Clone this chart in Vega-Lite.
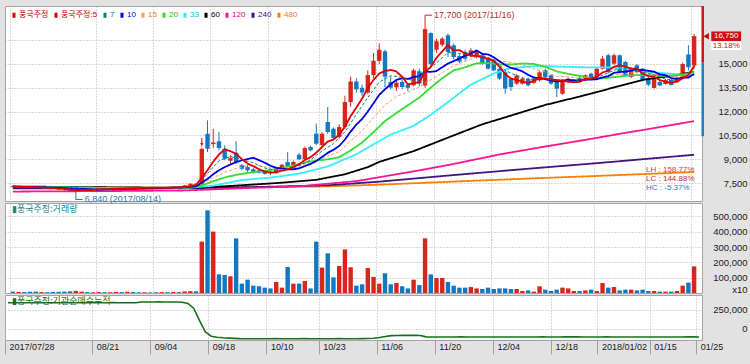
{
"$schema": "https://vega.github.io/schema/vega-lite/v6.json",
"background": "#e2e2e2",
"padding": {"left": 4, "top": 4, "right": 4, "bottom": 12},
"spacing": 2,
"bounds": "flush",
"config": {
  "view": {"stroke": "#a4a4a4", "fill": "#ffffff"},
  "font": "Liberation Sans, sans-serif",
  "axis": {"labelFont": "Liberation Sans, sans-serif", "labelFontSize": 9.5, "labelColor": "#1a1a1a", "gridColor": "#b4b4b4", "gridDash": [1, 2], "gridWidth": 1, "domain": false, "ticks": false, "labelOverlap": false, "labelBound": false}
},
"resolve": {"scale": {"x": "independent", "y": "independent", "color": "independent"}},
"datasets": {"d": [
{"i":0,"o":7300,"h":7350,"l":7220,"c":7250,"v":9000,"cum":346000,"m5":7260,"m7":7265,"m10":7270,"m15":7275,"m20":7280,"m33":7250,"m60":7280,"m120":6960,"m240":7170,"m480":7200},
{"i":1,"o":7250,"h":7300,"l":7200,"c":7280,"v":7000,"cum":346000,"m5":7260},
{"i":2,"o":7280,"h":7320,"l":7230,"c":7260,"v":6000,"cum":345000,"m5":7255},
{"i":3,"o":7260,"h":7300,"l":7200,"c":7230,"v":8000,"cum":346000,"m5":7250},
{"i":4,"o":7230,"h":7260,"l":7150,"c":7180,"v":9000,"cum":346000,"m5":7240},
{"i":5,"o":7180,"h":7230,"l":7140,"c":7200,"v":6000,"cum":347000,"m5":7230,"m10":7245},
{"i":6,"o":7200,"h":7240,"l":7150,"c":7170,"v":5000,"cum":346000,"m5":7208},
{"i":7,"o":7170,"h":7200,"l":7100,"c":7120,"v":7000,"cum":346000,"m5":7180},
{"i":8,"o":7120,"h":7150,"l":7050,"c":7080,"v":8000,"cum":345000,"m5":7150,"m7":7160},
{"i":9,"o":7080,"h":7120,"l":7000,"c":7050,"v":9000,"cum":346000,"m5":7124},
{"i":10,"o":7050,"h":7080,"l":6950,"c":7000,"v":11000,"cum":346000,"m5":7084,"m10":7157,"m15":7180,"m20":7200,"m33":7220,"m60":7250,"m120":6980},
{"i":11,"o":7000,"h":7050,"l":6840,"c":7020,"v":14000,"cum":347000,"m5":7054},
{"i":12,"o":7020,"h":7120,"l":7000,"c":7100,"v":9000,"cum":346000,"m5":7050},
{"i":13,"o":7100,"h":7150,"l":7060,"c":7080,"v":6000,"cum":346000,"m5":7050},
{"i":14,"o":7080,"h":7130,"l":7050,"c":7110,"v":5000,"cum":346000,"m5":7062,"m7":7070},
{"i":15,"o":7110,"h":7160,"l":7080,"c":7140,"v":6000,"cum":346000,"m5":7090,"m10":7087},
{"i":16,"o":7140,"h":7170,"l":7090,"c":7100,"v":5000,"cum":346000,"m5":7106},
{"i":17,"o":7100,"h":7150,"l":7080,"c":7130,"v":5000,"cum":346000,"m5":7112},
{"i":18,"o":7130,"h":7200,"l":7100,"c":7180,"v":7000,"cum":347000,"m5":7132},
{"i":19,"o":7180,"h":7220,"l":7140,"c":7160,"v":6000,"cum":346000,"m5":7142},
{"i":20,"o":7160,"h":7250,"l":7150,"c":7230,"v":8000,"cum":346000,"m5":7160,"m7":7150,"m10":7125,"m15":7130,"m20":7141,"m33":7170,"m60":7220,"m120":7000},
{"i":21,"o":7230,"h":7260,"l":7180,"c":7200,"v":6000,"cum":346000,"m5":7180},
{"i":22,"o":7200,"h":7230,"l":7150,"c":7180,"v":5000,"cum":346000,"m5":7180},
{"i":23,"o":7180,"h":7220,"l":7150,"c":7200,"v":5000,"cum":355000,"m5":7194},
{"i":24,"o":7200,"h":7240,"l":7170,"c":7190,"v":4000,"cum":355000,"m5":7200},
{"i":25,"o":7190,"h":7220,"l":7150,"c":7170,"v":5000,"cum":355000,"m5":7188,"m10":7174,"m20":7130},
{"i":26,"o":7170,"h":7230,"l":7160,"c":7220,"v":6000,"cum":356000,"m5":7192,"m7":7195},
{"i":27,"o":7220,"h":7260,"l":7190,"c":7210,"v":5000,"cum":355000,"m5":7198},
{"i":28,"o":7210,"h":7280,"l":7200,"c":7260,"v":7000,"cum":355000,"m5":7210},
{"i":29,"o":7260,"h":7300,"l":7230,"c":7250,"v":6000,"cum":355000,"m5":7222},
{"i":30,"o":7250,"h":7380,"l":7240,"c":7350,"v":10000,"cum":352000,"m5":7258,"m7":7240,"m10":7223,"m15":7195,"m20":7174,"m33":7180,"m60":7200,"m120":7030},
{"i":31,"o":7350,"h":7480,"l":7330,"c":7450,"v":12000,"cum":335000,"m5":7308},
{"i":32,"o":7450,"h":7500,"l":7380,"c":7420,"v":11000,"cum":270000,"m5":7386,"m7":7348,"m10":7292,"m240":7175,"m480":7202},
{"i":33,"o":7420,"h":9710,"l":7400,"c":9650,"v":336000,"cum":110000,"m5":7824,"m10":7517,"m15":7429,"m20":7340},
{"i":34,"o":10600,"h":11450,"l":9450,"c":9660,"v":540000,"cum":-40000,"m5":8306,"m7":8089,"m10":7764},
{"i":35,"o":9950,"h":10920,"l":9700,"c":10050,"v":401000,"cum":-95000,"m5":8846,"m10":8052,"m15":7833,"m20":7613,"m33":7330,"m60":7250},
{"i":36,"o":10130,"h":10715,"l":9560,"c":9706,"v":122000,"cum":-108000,"m5":9297,"m7":8899,"m10":8303},
{"i":37,"o":9660,"h":9880,"l":8930,"c":9030,"v":118000,"cum":-115000,"m5":9619,"m10":8503,"m15":8175,"m20":7846},
{"i":38,"o":8906,"h":9246,"l":8716,"c":9076,"v":109000,"cum":-120000,"m5":9504,"m7":9168,"m10":8664},
{"i":39,"o":9410,"h":10128,"l":8716,"c":8824,"v":357000,"cum":-124000,"m5":9337,"m10":8822,"m15":8420,"m20":8017},
{"i":40,"o":8616,"h":8716,"l":8300,"c":8401,"v":61000,"cum":-127000,"m5":9007,"m7":8975,"m10":8927,"m33":7690,"m120":7170},
{"i":41,"o":8500,"h":8650,"l":8200,"c":8300,"v":87000,"cum":-128000,"m5":8726,"m10":9012,"m15":8572,"m20":8131,"m60":7380},
{"i":42,"o":8363,"h":8450,"l":8100,"c":8193,"v":48000,"cum":-128000,"m5":8559,"m7":8771,"m10":9089},
{"i":43,"o":8300,"h":8380,"l":8100,"c":8150,"v":44000,"cum":-129000,"m5":8374,"m10":8939,"m15":8584,"m20":8228},
{"i":44,"o":8240,"h":8300,"l":8030,"c":8070,"v":35000,"cum":-128000,"m5":8223,"m7":8446,"m10":8780,"m240":7260,"m480":7242},
{"i":45,"o":8200,"h":8250,"l":8000,"c":8100,"v":30000,"cum":-128000,"m5":8163,"m10":8585,"m15":8452,"m20":8319,"m33":7840},
{"i":46,"o":8120,"h":8450,"l":8100,"c":8400,"v":72000,"cum":-127000,"m5":8183,"m7":8292,"m10":8455},
{"i":47,"o":8420,"h":8700,"l":8380,"c":8650,"v":35000,"cum":-128000,"m5":8274,"m10":8417,"m15":8439,"m20":8460,"m60":7520},
{"i":48,"o":8820,"h":9450,"l":8500,"c":8570,"v":170000,"cum":-129000,"m5":8358,"m7":8361,"m10":8366},
{"i":49,"o":8600,"h":8900,"l":8550,"c":8824,"v":61000,"cum":-128000,"m5":8509,"m10":8366,"m15":8480,"m20":8594},
{"i":50,"o":9283,"h":9400,"l":8950,"c":8994,"v":61000,"cum":-128000,"m5":8688,"m7":8583,"m10":8426,"m33":8090,"m120":7290},
{"i":51,"o":9000,"h":9800,"l":8950,"c":9700,"v":78000,"cum":-127000,"m5":8948,"m10":8566,"m15":8678,"m20":8789},
{"i":52,"o":9769,"h":9850,"l":9500,"c":9561,"v":30000,"cum":-128000,"m5":9130,"m7":8959,"m10":8702},
{"i":53,"o":10607,"h":11237,"l":9876,"c":9977,"v":336000,"cum":-129000,"m5":9411,"m10":8885,"m15":8899,"m20":8912,"m60":7700},
{"i":54,"o":9900,"h":10700,"l":9800,"c":10607,"v":166000,"cum":-128000,"m5":9768,"m7":9516,"m10":9139},
{"i":55,"o":11345,"h":12290,"l":10600,"c":10715,"v":259000,"cum":-128000,"m5":10112,"m10":9400,"m15":9197,"m20":8993,"m33":8540,"m240":7355,"m480":7287},
{"i":56,"o":10922,"h":11000,"l":10200,"c":10336,"v":102000,"cum":-128000,"m5":10239,"m7":9981,"m10":9594},
{"i":57,"o":10400,"h":11200,"l":10300,"c":11030,"v":176000,"cum":-127000,"m5":10533,"m10":9832,"m15":9479,"m20":9125},
{"i":58,"o":11030,"h":13000,"l":10900,"c":12600,"v":285000,"cum":-128000,"m5":11058,"m7":10729,"m10":10235,"m60":8050},
{"i":59,"o":12600,"h":14200,"l":12300,"c":13900,"v":168000,"cum":-128000,"m5":11716,"m10":10742,"m15":10148,"m20":9554},
{"i":60,"o":13900,"h":14100,"l":13200,"c":13400,"v":48000,"cum":-128000,"m5":12253,"m7":11825,"m10":11183,"m33":9310,"m120":7620},
{"i":61,"o":13500,"h":13700,"l":13000,"c":13200,"v":57000,"cum":-127000,"m5":12826,"m10":11533,"m15":10792,"m20":10050},
{"i":62,"o":13200,"h":14600,"l":13100,"c":14300,"v":163000,"cum":-126000,"m5":13480,"m7":12891,"m10":12007,"m60":8500},
{"i":63,"o":14300,"h":15700,"l":14100,"c":15200,"v":105000,"cum":-122000,"m5":14000,"m10":12529,"m15":11618,"m20":10707,"m33":9940},
{"i":64,"o":15200,"h":16300,"l":15000,"c":15900,"v":61000,"cum":-112000,"m5":14400,"m7":13863,"m10":13058,"m60":8830,"m240":7585,"m480":7395},
{"i":65,"o":15800,"h":15900,"l":13550,"c":14200,"v":129000,"cum":-100000,"m5":14560,"m10":13407,"m15":12406,"m20":11404},
{"i":66,"o":13870,"h":14200,"l":13400,"c":13510,"v":57000,"cum":-88000,"m5":14622,"m7":14263,"m10":13724,"m33":10550},
{"i":67,"o":13530,"h":14000,"l":13300,"c":13822,"v":65000,"cum":-85000,"m5":14526,"m10":14003,"m15":12961,"m20":11918},
{"i":68,"o":13870,"h":14000,"l":13400,"c":13550,"v":44000,"cum":-84000,"m5":14196,"m7":14157,"m10":14098},
{"i":69,"o":13700,"h":13800,"l":13300,"c":13500,"v":30000,"cum":-84000,"m5":13716,"m10":14058,"m15":13229,"m20":12400},
{"i":70,"o":13660,"h":14700,"l":13600,"c":14600,"v":87000,"cum":-83000,"m5":13796,"m7":13949,"m10":14178,"m33":11100,"m60":9510,"m120":8230},
{"i":71,"o":14540,"h":14700,"l":13600,"c":13760,"v":52000,"cum":-85000,"m5":13846,"m10":14234,"m15":13559,"m20":12884},
{"i":72,"o":13650,"h":17700,"l":13500,"c":17200,"v":357000,"cum":-104000,"m5":14522,"m7":14523,"m10":14524},
{"i":73,"o":16950,"h":17000,"l":14800,"c":15000,"v":122000,"cum":-105000,"m5":14812,"m10":14504,"m15":14011,"m20":13517,"m33":11800},
{"i":74,"o":15900,"h":16600,"l":15700,"c":16430,"v":98000,"cum":-105000,"m5":15398,"m7":15062,"m10":14557},
{"i":75,"o":16217,"h":16700,"l":16100,"c":16596,"v":98000,"cum":-106000,"m5":15797,"m10":14797,"m15":14450,"m20":14102},
{"i":76,"o":16810,"h":16910,"l":15442,"c":15757,"v":72000,"cum":-105000,"m5":16197,"m7":15727,"m10":15022,"m33":12600},
{"i":77,"o":16180,"h":16300,"l":15300,"c":15440,"v":48000,"cum":-105000,"m5":15845,"m10":15184,"m15":14889,"m20":14594,"m60":10500,"m120":8700,"m240":8000,"m480":7590},
{"i":78,"o":15500,"h":15600,"l":15050,"c":15150,"v":35000,"cum":-104000,"m5":15875,"m7":15663,"m10":15344},
{"i":79,"o":15757,"h":15900,"l":15200,"c":15335,"v":35000,"cum":-105000,"m5":15656,"m10":15527,"m15":15160,"m20":14793},
{"i":80,"o":15550,"h":16000,"l":15450,"c":15863,"v":39000,"cum":-105000,"m5":15509,"m7":15567,"m10":15653,"m33":13700},
{"i":81,"o":15442,"h":15900,"l":15350,"c":15757,"v":30000,"cum":-105000,"m5":15509,"m10":15853,"m15":15449,"m20":15044},
{"i":82,"o":15549,"h":15650,"l":14950,"c":15020,"v":26000,"cum":-106000,"m5":15425,"m7":15509,"m10":15635,"m60":11200},
{"i":83,"o":15335,"h":15400,"l":14650,"c":14705,"v":35000,"cum":-105000,"m5":15336,"m10":15606,"m15":15331,"m20":15055},
{"i":84,"o":15230,"h":15300,"l":14550,"c":14600,"v":26000,"cum":-105000,"m5":15189,"m7":15283,"m10":15423,"m33":14400},
{"i":85,"o":14705,"h":14800,"l":14000,"c":14075,"v":30000,"cum":-105000,"m5":14831,"m10":15170,"m15":15200,"m20":14984,"m120":9300},
{"i":86,"o":14475,"h":14550,"l":13128,"c":13445,"v":30000,"cum":-106000,"m5":14369,"m7":14597,"m10":14939},
{"i":87,"o":14075,"h":14150,"l":13300,"c":13550,"v":26000,"cum":-105000,"m5":14075,"m10":14750,"m15":15100,"m20":14967,"m33":14750,"m60":11750},
{"i":88,"o":13760,"h":14350,"l":13700,"c":14285,"v":26000,"cum":-105000,"m5":13991,"m7":14260,"m10":14664},
{"i":89,"o":13760,"h":14150,"l":13700,"c":14075,"v":13000,"cum":-105000,"m5":13886,"m10":14538,"m15":14950,"m20":15033},
{"i":90,"o":14075,"h":14150,"l":13600,"c":13658,"v":17000,"cum":-105000,"m5":13803,"m7":14009,"m10":14317,"m240":8400,"m480":7780},
{"i":91,"o":13822,"h":14100,"l":13750,"c":14075,"v":9000,"cum":-105000,"m5":13929,"m10":14149,"m15":14700,"m20":15001},
{"i":92,"o":13973,"h":14550,"l":13900,"c":14475,"v":44000,"cum":-104000,"m5":14114,"m7":14106,"m10":14095,"m33":14880},
{"i":93,"o":14600,"h":14700,"l":14100,"c":14180,"v":22000,"cum":-105000,"m5":14093,"m10":14042,"m15":14500,"m20":14824,"m60":12420,"m120":9800},
{"i":94,"o":14290,"h":14350,"l":13700,"c":13760,"v":13000,"cum":-105000,"m5":14030,"m7":14001,"m10":13958},
{"i":95,"o":13973,"h":14050,"l":12920,"c":13445,"v":22000,"cum":-105000,"m5":13987,"m10":13895,"m15":14214,"m20":14533},
{"i":96,"o":13128,"h":14050,"l":13050,"c":13973,"v":35000,"cum":-104000,"m5":13967,"m7":13959,"m10":13948,"m33":14830},
{"i":97,"o":13870,"h":14150,"l":13800,"c":14075,"v":30000,"cum":-104000,"m5":13887,"m10":14001,"m15":14189,"m20":14376},
{"i":98,"o":13900,"h":14050,"l":13850,"c":14000,"v":13000,"cum":-104000,"m5":13851,"m7":13899,"m10":13972},
{"i":99,"o":14118,"h":14200,"l":13850,"c":13910,"v":13000,"cum":-105000,"m5":13881,"m10":13956,"m15":14102,"m20":14247,"m60":12950},
{"i":100,"o":13973,"h":14350,"l":13900,"c":14290,"v":17000,"cum":-105000,"m5":14050,"m7":14038,"m10":14019,"m33":14790,"m120":10220},
{"i":101,"o":14390,"h":14450,"l":14000,"c":14075,"v":22000,"cum":-105000,"m5":14070,"m10":14019,"m15":14052,"m20":14084},
{"i":102,"o":14180,"h":14800,"l":14100,"c":14705,"v":13000,"cum":-105000,"m5":14196,"m7":14134,"m10":14042,"m240":8750,"m480":7945},
{"i":103,"o":14705,"h":15500,"l":14650,"c":15335,"v":65000,"cum":-104000,"m5":14463,"m10":14157,"m15":14129,"m20":14100},
{"i":104,"o":15549,"h":15650,"l":14400,"c":14496,"v":35000,"cum":-105000,"m5":14580,"m7":14440,"m10":14231,"m33":14790},
{"i":105,"o":15020,"h":15650,"l":14950,"c":15549,"v":39000,"cum":-105000,"m5":14832,"m10":14441,"m15":14305,"m20":14168,"m60":13520},
{"i":106,"o":15549,"h":15600,"l":14400,"c":14496,"v":17000,"cum":-105000,"m5":14916,"m7":14747,"m10":14493,"m120":10600},
{"i":107,"o":15126,"h":15200,"l":14200,"c":14290,"v":22000,"cum":-105000,"m5":14833,"m10":14515,"m15":14387,"m20":14258},
{"i":108,"o":14180,"h":14800,"l":14100,"c":14705,"v":22000,"cum":-105000,"m5":14707,"m7":14658,"m10":14585,"m33":14680},
{"i":109,"o":14916,"h":15000,"l":14400,"c":14496,"v":17000,"cum":-105000,"m5":14707,"m10":14644,"m15":14472,"m20":14300},
{"i":110,"o":14705,"h":14750,"l":13900,"c":13973,"v":22000,"cum":-105000,"m5":14392,"m7":14480,"m10":14612,"m60":14000},
{"i":111,"o":14100,"h":14200,"l":13600,"c":13700,"v":13000,"cum":-105000,"m5":14233,"m10":14575,"m15":14436,"m20":14297,"m33":14500,"m120":10900,"m240":9030,"m480":8075},
{"i":112,"o":13490,"h":14150,"l":13450,"c":14075,"v":13000,"cum":-105000,"m5":14190,"m7":14319,"m10":14512},
{"i":113,"o":13860,"h":13950,"l":13600,"c":13650,"v":9000,"cum":-105000,"m5":13979,"m10":14343,"m15":14297,"m20":14250},
{"i":114,"o":13740,"h":14050,"l":13700,"c":13990,"v":9000,"cum":-105000,"m5":13878,"m7":14044,"m10":14293},
{"i":115,"o":13990,"h":14050,"l":13650,"c":13680,"v":9000,"cum":-105000,"m5":13819,"m10":14106,"m15":14190,"m20":14274,"m33":14380,"m60":14250,"m120":11150},
{"i":116,"o":13860,"h":14200,"l":13800,"c":14120,"v":13000,"cum":-105000,"m5":13903,"m7":13969,"m10":14068},
{"i":117,"o":14200,"h":15100,"l":14100,"c":15000,"v":48000,"cum":-104000,"m5":14088,"m10":14139,"m15":14233,"m20":14327},
{"i":118,"o":15600,"h":16180,"l":14600,"c":14800,"v":68000,"cum":-104000,"m5":14318,"m7":14250,"m10":14149},
{"i":119,"o":14900,"h":16900,"l":14700,"c":16750,"v":174000,"cum":-105000,"m5":14870,"m7":14672,"m10":14374,"m15":14442,"m20":14509,"m33":14300,"m60":14516,"m120":11400,"m240":9280,"m480":8190}
]},
"vconcat": [
{
  "width": 697, "height": 195,
  "data": {"name": "d"},
  "resolve": {"axis": {"x": "independent", "y": "independent"}},
  "layer": [
    {"mark": {"type": "rule", "strokeWidth": 1},
     "encoding": {
       "x": {"field": "i", "type": "quantitative", "title": null, "scale": {"domain": [-0.5, 119.5], "nice": false, "zero": false}, "axis": {"values": [-0.5,14.5,24.5,34.5,44.5,53.5,63.5,73.5,83.5,93.5,101.5,110.5,118.5], "labels": false, "grid": true, "orient": "bottom"}},
       "y": {"field": "l", "type": "quantitative", "title": null, "scale": {"domain": [6366, 18655], "nice": false, "zero": false}, "axis": {"orient": "right", "values": [7500, 9000, 10500, 12000, 13500, 15000, 16500], "labelExpr": "datum.value == 16500 ? '' : format(datum.value, ',')", "labelAlign": "right", "labelPadding": 45, "labelOverlap": false, "labelBound": false, "labelFlush": false, "grid": true}},
       "y2": {"field": "h"},
       "color": {"condition": {"test": "datum.c >= datum.o", "value": "#d9261c"}, "value": "#1478c0"}
     }},
    {"mark": {"type": "bar", "width": 4.4},
     "encoding": {
       "x": {"field": "i", "type": "quantitative", "axis": null},
       "y": {"field": "o", "type": "quantitative", "axis": null},
       "y2": {"field": "c"},
       "color": {"condition": {"test": "datum.c >= datum.o", "value": "#d9261c"}, "value": "#1478c0"}
     }},
    {"transform": [{"fold": ["m480","m240","m120","m60","m33","m20","m15","m10","m7","m5"], "as": ["s", "val"]}, {"filter": "isValid(datum.val)"}],
     "mark": {"type": "line"},
     "encoding": {
       "x": {"field": "i", "type": "quantitative", "axis": null},
       "y": {"field": "val", "type": "quantitative", "axis": null},
       "order": {"field": "i", "type": "quantitative"},
       "color": {"field": "s", "type": "nominal",
         "scale": {"domain": ["c","m5","m7","m10","m15","m20","m33","m60","m120","m240","m480"], "range": ["#d40000","#e00000","#0f7f7f","#0000e0","#ff9966","#33dd33","#33eeff","#000000","#ff1493","#3f1580","#ff8000"]},
         "legend": {"title": null, "orient": "top-left", "direction": "horizontal", "offset": 5, "padding": 0, "symbolType": "M0,-1L0,1", "symbolSize": 25, "symbolStrokeWidth": 3, "symbolDash": [1, 0], "labelFont": "Liberation Sans, Noto Sans CJK KR, sans-serif", "labelFontSize": 8, "labelOffset": 1, "columnPadding": 1,
           "labelExpr": "['풍국주정','풍국주정:5','7','10','15','20','33','60','120','240','480'][indexof(['c','m5','m7','m10','m15','m20','m33','m60','m120','m240','m480'], datum.value)]",
           "labelColor": {"expr": "['#cc0000','#cc0000','#007f7f','#0000cc','#f07a30','#10c010','#00c8d8','#000000','#e0007a','#3c0a80','#f08000'][indexof(['c','m5','m7','m10','m15','m20','m33','m60','m120','m240','m480'], datum.value)]"}}},
       "strokeWidth": {"condition": {"test": "datum.s == 'm7' || datum.s == 'm15'", "value": 1}, "value": 1.8},
       "strokeDash": {"condition": {"test": "datum.s == 'm7' || datum.s == 'm15'", "value": [3, 2]}, "value": [1, 0]}
     }},
    {"data": {"values": [{"i": 72, "p": 17700, "t": "17,700 (2017/11/16)"}]},
     "layer": [
       {"mark": {"type": "rule", "color": "#b5302a", "y2Offset": -6},
        "encoding": {"x": {"field": "i", "type": "quantitative", "axis": null}, "y": {"field": "p", "type": "quantitative", "axis": null}, "y2": {"field": "p"}}},
       {"mark": {"type": "rule", "color": "#b5302a", "yOffset": -6, "x2Offset": 7},
        "encoding": {"x": {"field": "i", "type": "quantitative", "axis": null}, "x2": {"field": "i"}, "y": {"field": "p", "type": "quantitative", "axis": null}}},
       {"mark": {"type": "text", "align": "left", "baseline": "middle", "dx": 9, "dy": -6, "color": "#b5302a", "fontSize": 9},
        "encoding": {"x": {"field": "i", "type": "quantitative", "axis": null}, "y": {"field": "p", "type": "quantitative", "axis": null}, "text": {"field": "t"}}}
     ]},
    {"data": {"values": [{"i": 11, "p": 6840, "t": "6,840 (2017/08/14)"}]},
     "layer": [
       {"mark": {"type": "rule", "color": "#2a78a8", "y2Offset": 6},
        "encoding": {"x": {"field": "i", "type": "quantitative", "axis": null}, "y": {"field": "p", "type": "quantitative", "axis": null}, "y2": {"field": "p"}}},
       {"mark": {"type": "rule", "color": "#2a78a8", "yOffset": 6, "x2Offset": 7},
        "encoding": {"x": {"field": "i", "type": "quantitative", "axis": null}, "x2": {"field": "i"}, "y": {"field": "p", "type": "quantitative", "axis": null}}},
       {"mark": {"type": "text", "align": "left", "baseline": "middle", "dx": 9, "dy": 6, "color": "#2a78a8", "fontSize": 9},
        "encoding": {"x": {"field": "i", "type": "quantitative", "axis": null}, "y": {"field": "p", "type": "quantitative", "axis": null}, "text": {"field": "t"}}}
     ]},
    {"data": {"values": [{}]},
     "layer": [
       {"mark": {"type": "text", "text": "LH : 158.77%", "align": "left", "baseline": "middle", "color": "#d23a2a", "fontSize": 8},
        "encoding": {"x": {"datum": 110.6, "type": "quantitative", "axis": null}, "y": {"datum": 8330, "type": "quantitative", "axis": null}}},
       {"mark": {"type": "text", "text": "LC : 144.88%", "align": "left", "baseline": "middle", "color": "#b83028", "fontSize": 8},
        "encoding": {"x": {"datum": 110.6, "type": "quantitative", "axis": null}, "y": {"datum": 7752, "type": "quantitative", "axis": null}}},
       {"mark": {"type": "text", "text": "HC :  -5.37%", "align": "left", "baseline": "middle", "color": "#2b7fc0", "fontSize": 8},
        "encoding": {"x": {"datum": 110.6, "type": "quantitative", "axis": null}, "y": {"datum": 7175, "type": "quantitative", "axis": null}}},
       {"mark": {"type": "rule", "color": "#cc1a1a", "strokeWidth": 2.5},
        "encoding": {"x": {"datum": 120.5, "type": "quantitative", "axis": null}, "y": {"datum": 15100, "type": "quantitative", "axis": null}, "y2": {"datum": 18655}}},
       {"mark": {"type": "rule", "color": "#1a82c8", "strokeWidth": 2.5},
        "encoding": {"x": {"datum": 120.5, "type": "quantitative", "axis": null}, "y": {"datum": 10450, "type": "quantitative", "axis": null}, "y2": {"datum": 15100}}},
       {"mark": {"type": "point", "shape": "triangle-left", "filled": true, "size": 40, "color": "#cc0000", "opacity": 1},
        "encoding": {"x": {"datum": 121.1, "type": "quantitative", "axis": null}, "y": {"datum": 16750, "type": "quantitative", "axis": null}}},
       {"mark": {"type": "rect", "color": "#cc1010"},
        "encoding": {"x": {"datum": 122.0, "type": "quantitative", "axis": null}, "x2": {"datum": 127.2}, "y": {"datum": 17050, "type": "quantitative", "axis": null}, "y2": {"datum": 16450}}},
       {"mark": {"type": "text", "text": "16,750", "align": "center", "baseline": "middle", "color": "#ffffff", "fontSize": 8},
        "encoding": {"x": {"datum": 124.6, "type": "quantitative", "axis": null}, "y": {"datum": 16750, "type": "quantitative", "axis": null}}},
       {"mark": {"type": "rect", "color": "#ffffff"},
        "encoding": {"x": {"datum": 122.0, "type": "quantitative", "axis": null}, "x2": {"datum": 127.2}, "y": {"datum": 16420, "type": "quantitative", "axis": null}, "y2": {"datum": 15880}}},
       {"mark": {"type": "text", "text": "13.18%", "align": "center", "baseline": "middle", "color": "#cc1010", "fontSize": 8},
        "encoding": {"x": {"datum": 124.6, "type": "quantitative", "axis": null}, "y": {"datum": 16140, "type": "quantitative", "axis": null}}},
       {"mark": {"type": "point", "shape": "arrow", "angle": 180, "filled": true, "size": 70, "color": "#e02020", "opacity": 1},
        "encoding": {"x": {"datum": 33, "type": "quantitative", "axis": null}, "y": {"datum": 10050, "type": "quantitative", "axis": null}}}
     ]}
  ]
},
{
  "width": 697, "height": 90,
  "data": {"name": "d"},
  "title": {"text": "▮풍국주정:거래량", "anchor": "start", "frame": "group", "orient": "top", "offset": -11, "baseline": "top", "dx": 7, "fontSize": 9, "font": "Noto Sans CJK KR", "fontWeight": "normal", "color": "#1b8585"},
  "mark": {"type": "bar", "width": 4.4},
  "encoding": {
    "x": {"field": "i", "type": "quantitative", "title": null, "scale": {"domain": [-0.5, 119.5], "nice": false, "zero": false}, "axis": {"values": [-0.5,14.5,24.5,34.5,44.5,53.5,63.5,73.5,83.5,93.5,101.5,110.5,118.5], "labels": false, "grid": true, "orient": "bottom"}},
    "y": {"field": "v", "type": "quantitative", "title": null, "scale": {"domain": [0, 588000], "nice": false}, "axis": {"orient": "right", "values": [23500, 100000, 200000, 300000, 400000, 500000], "labelExpr": "datum.value == 23500 ? 'x10' : format(datum.value, ',')", "labelAlign": "right", "labelPadding": 45, "labelOverlap": false, "grid": true, "gridOpacity": {"condition": {"test": "datum.value == 23500", "value": 0}, "value": 1}}},
    "color": {"condition": {"test": "datum.c >= datum.o", "value": "#d9261c"}, "value": "#1478c0"}
  }
},
{
  "width": 697, "height": 45,
  "data": {"name": "d"},
  "title": {"text": "▮풍국주정:기관순매수누적", "anchor": "start", "frame": "group", "orient": "top", "offset": -11, "baseline": "top", "dx": 7, "fontSize": 9, "font": "Noto Sans CJK KR", "fontWeight": "normal", "color": "#17701a"},
  "mark": {"type": "line", "color": "#17701a", "strokeWidth": 1.6},
  "encoding": {
    "x": {"field": "i", "type": "quantitative", "title": null, "scale": {"domain": [-0.5, 119.5], "nice": false, "zero": false},
      "axis": {"values": [-0.5,14.5,24.5,34.5,44.5,53.5,63.5,73.5,83.5,93.5,101.5,110.5,118.5], "grid": true, "orient": "bottom", "ticks": true, "tickSize": 14, "tickColor": "#a0a0a0", "labelPadding": -12, "labelAlign": "left", "labelBaseline": "top", "labelOffset": 4, "labelFontSize": 9, "labelOverlap": false,
        "labelExpr": "['2017/07/28','08/21','09/04','09/18','10/10','10/23','11/06','11/20','12/04','12/18','2018/01/02','01/15','01/25'][indexof([-0.5,14.5,24.5,34.5,44.5,53.5,63.5,73.5,83.5,93.5,101.5,110.5,118.5], datum.value)]"}},
    "y": {"field": "cum", "type": "quantitative", "title": null, "scale": {"domain": [-145000, 447000], "nice": false, "zero": false}, "axis": {"orient": "right", "values": [0, 250000], "labelExpr": "format(datum.value, ',')", "labelAlign": "right", "labelPadding": 45, "labelOverlap": false, "grid": true}},
    "order": {"field": "i", "type": "quantitative"}
  }
}
]
}
